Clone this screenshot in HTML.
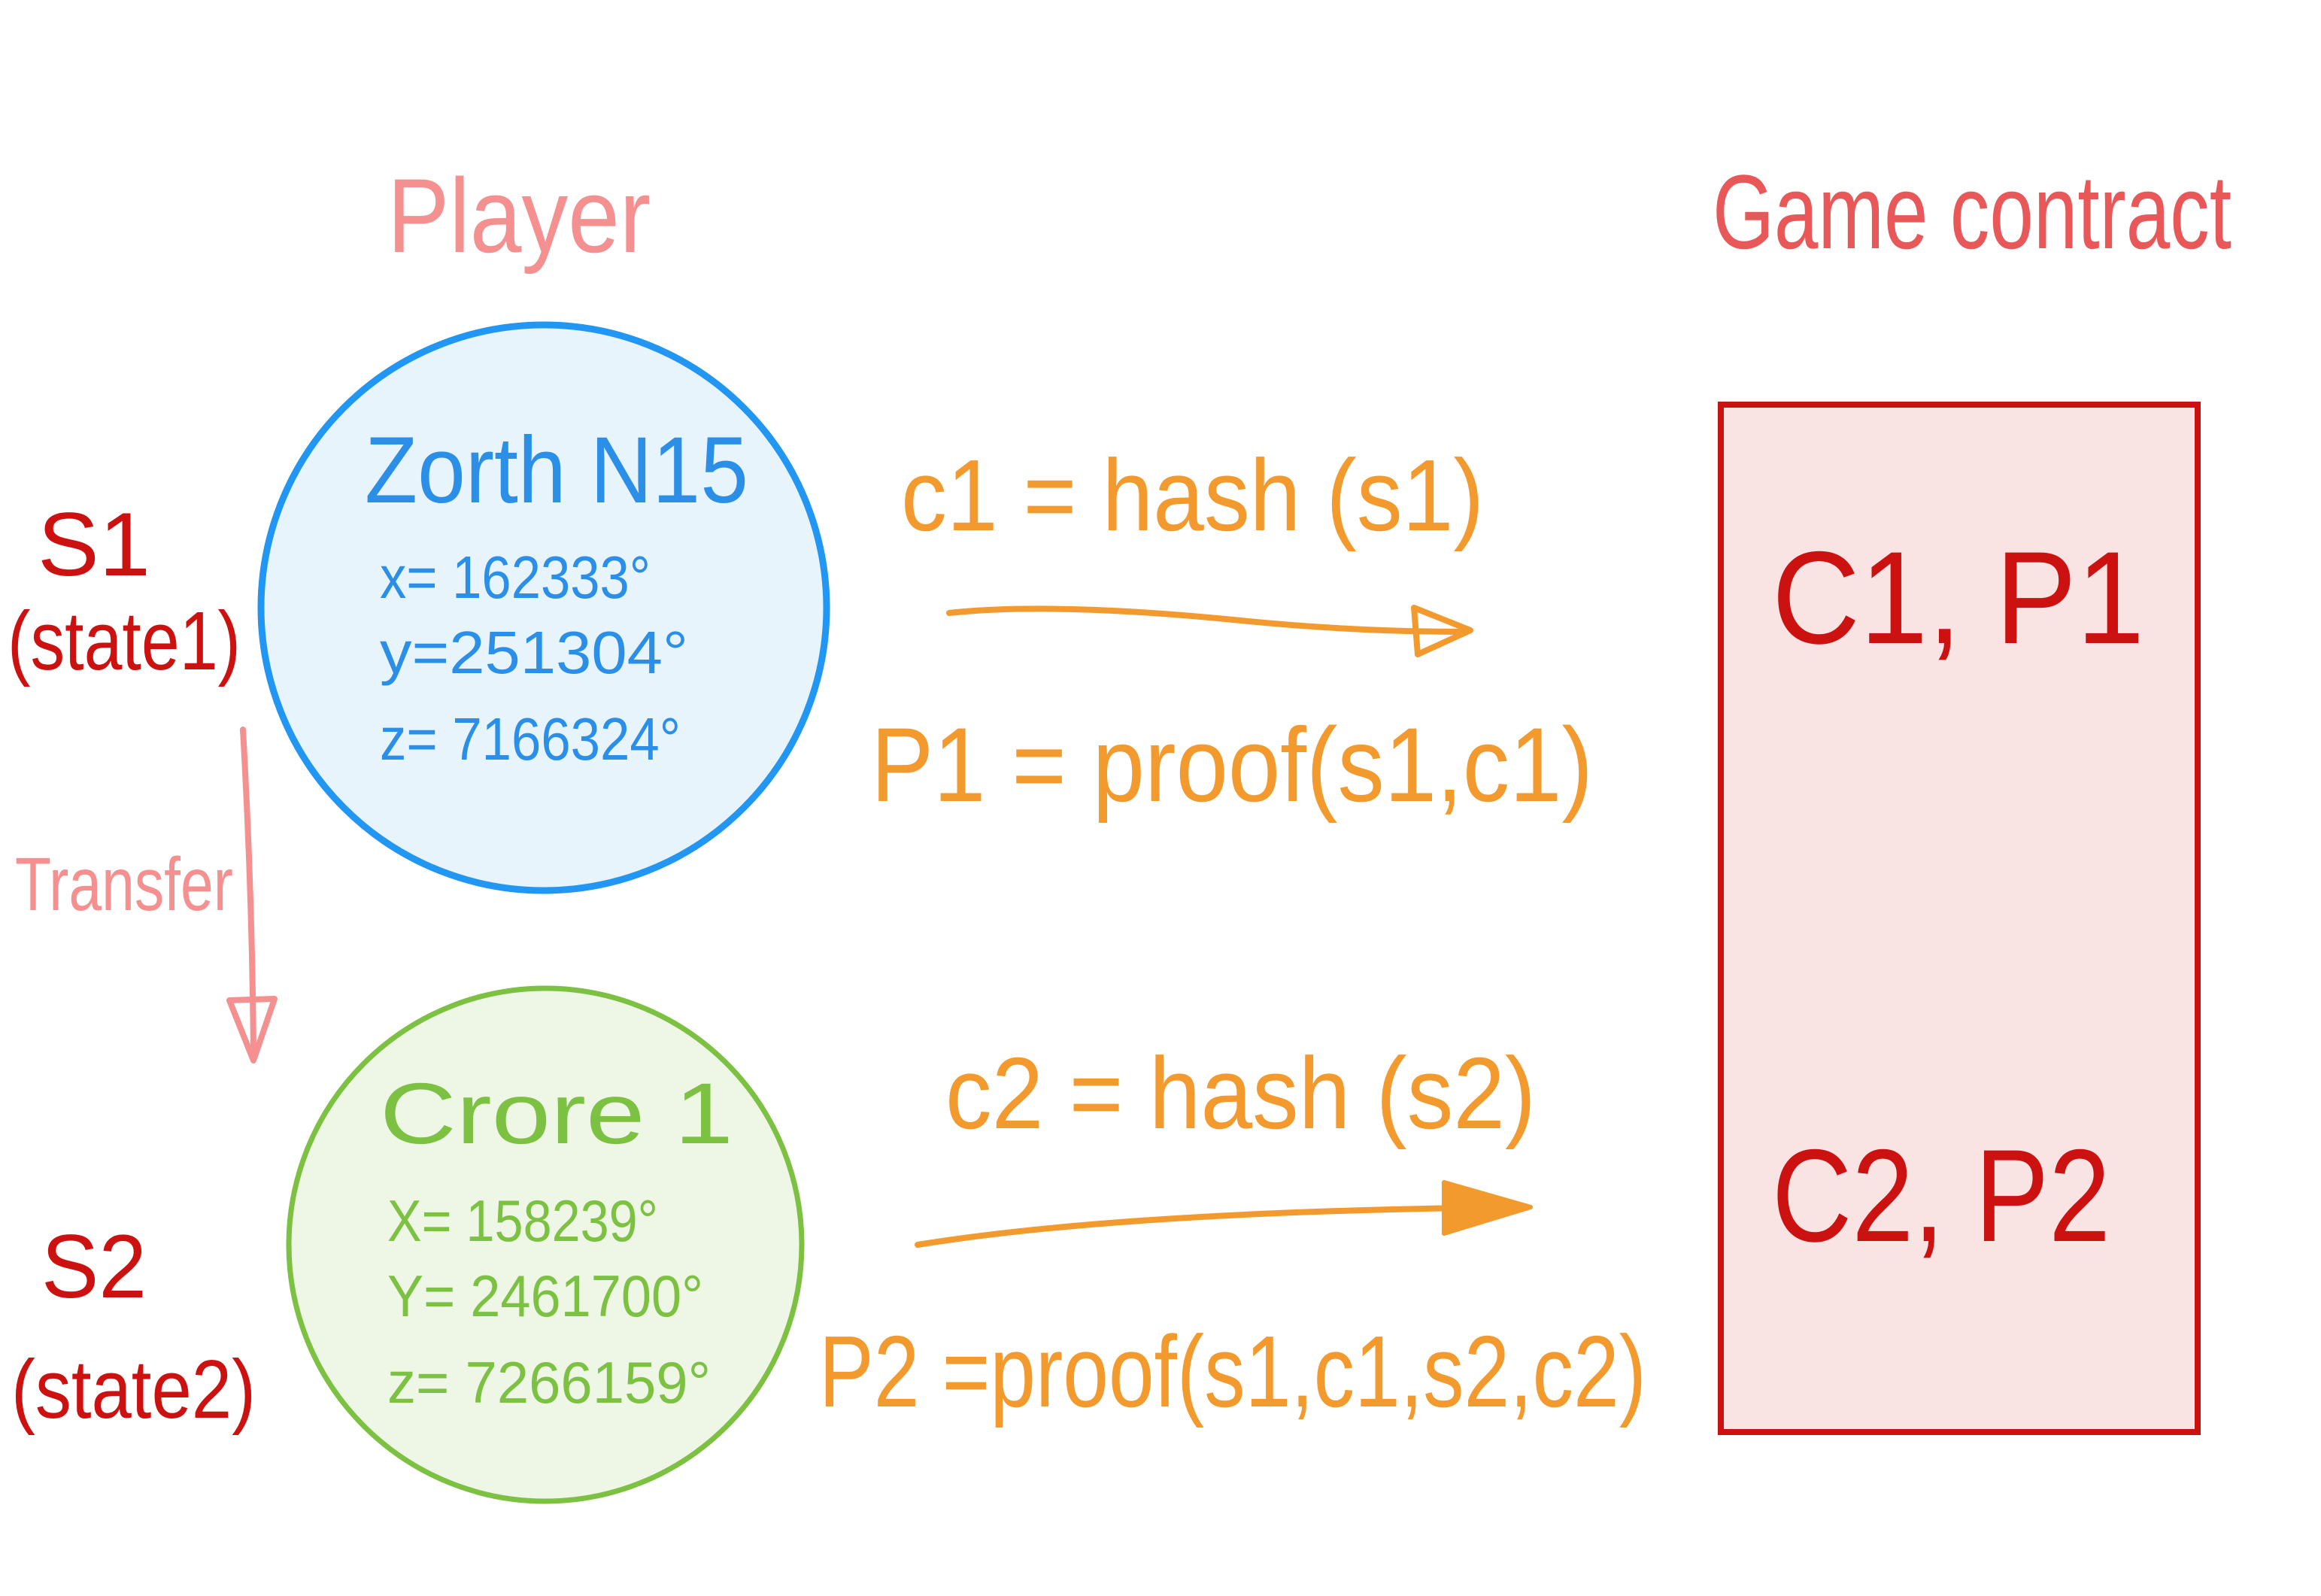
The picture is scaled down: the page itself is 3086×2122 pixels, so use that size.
<!DOCTYPE html>
<html><head><meta charset="utf-8"><style>
html,body{margin:0;padding:0;background:#fff;}
svg{display:block}
text{font-family:"Liberation Sans",sans-serif;}
</style></head><body>
<svg width="3086" height="2122" viewBox="0 0 3086 2122" xmlns="http://www.w3.org/2000/svg">
<rect width="3086" height="2122" fill="#fff"/>
<!-- titles -->
<text x="515" y="335" font-size="140" fill="#f49090" textLength="350" lengthAdjust="spacingAndGlyphs">Player</text>
<text x="2277" y="330" font-size="140" fill="#e85858" textLength="690" lengthAdjust="spacingAndGlyphs">Game contract</text>

<!-- blue circle -->
<circle cx="723" cy="808" r="376" fill="#e8f4fc" stroke="#2196f3" stroke-width="9"/>
<text x="485" y="668" font-size="125" fill="#2b8fe8" textLength="510" lengthAdjust="spacingAndGlyphs">Zorth N15</text>
<text x="505" y="795" font-size="80" fill="#2b8fe8" textLength="360" lengthAdjust="spacingAndGlyphs">x= 162333°</text>
<text x="505" y="895" font-size="80" fill="#2b8fe8" textLength="410" lengthAdjust="spacingAndGlyphs">y=251304°</text>
<text x="505" y="1010" font-size="80" fill="#2b8fe8" textLength="400" lengthAdjust="spacingAndGlyphs">z= 7166324°</text>

<!-- green circle -->
<circle cx="725" cy="1655" r="341" fill="#eef6e6" stroke="#7cc142" stroke-width="7"/>
<text x="505" y="1520" font-size="115" fill="#7cc142" textLength="470" lengthAdjust="spacingAndGlyphs">Crore  1</text>
<text x="515" y="1650" font-size="78" fill="#7cc142" textLength="360" lengthAdjust="spacingAndGlyphs">X= 158239°</text>
<text x="515" y="1750" font-size="78" fill="#7cc142" textLength="420" lengthAdjust="spacingAndGlyphs">Y= 2461700°</text>
<text x="515" y="1865" font-size="78" fill="#7cc142" textLength="430" lengthAdjust="spacingAndGlyphs">z= 7266159°</text>

<!-- state labels -->
<text x="50" y="765" font-size="120" fill="#cc1111" textLength="150" lengthAdjust="spacingAndGlyphs">S1</text>
<text x="10" y="890" font-size="110" fill="#cc1111" textLength="310" lengthAdjust="spacingAndGlyphs">(state1)</text>
<text x="55" y="1725" font-size="120" fill="#cc1111" textLength="140" lengthAdjust="spacingAndGlyphs">S2</text>
<text x="15" y="1885" font-size="110" fill="#cc1111" textLength="325" lengthAdjust="spacingAndGlyphs">(state2)</text>

<!-- transfer arrow -->
<path d="M323 970 Q335 1180 337 1395" fill="none" stroke="#f49090" stroke-width="8" stroke-linecap="round"/>
<path d="M305 1330 L337 1410 L365 1328 Z" fill="none" stroke="#f49090" stroke-width="8" stroke-linejoin="round"/>
<text x="20" y="1210" font-size="100" fill="#f49090" textLength="290" lengthAdjust="spacingAndGlyphs">Transfer</text>

<!-- orange formulas -->
<g fill="#f29a2e">
<text x="1198" y="705" font-size="135" textLength="775" lengthAdjust="spacingAndGlyphs">c1 = hash (s1)</text>
<text x="1158" y="1065" font-size="140" textLength="960" lengthAdjust="spacingAndGlyphs">P1 = proof(s1,c1)</text>
<text x="1257" y="1500" font-size="135" textLength="785" lengthAdjust="spacingAndGlyphs">c2 = hash (s2)</text>
<text x="1089" y="1870" font-size="135" textLength="1100" lengthAdjust="spacingAndGlyphs">P2 =proof(s1,c1,s2,c2)</text>
</g>
<path d="M1262 815 Q1400 800 1650 825 Q1800 840 1950 840" fill="none" stroke="#f29a2e" stroke-width="8" stroke-linecap="round"/>
<path d="M1880 808 L1955 838 L1885 870 Z" fill="none" stroke="#f29a2e" stroke-width="8" stroke-linejoin="round"/>
<path d="M1220 1655 Q1500 1610 2030 1605" fill="none" stroke="#f29a2e" stroke-width="8" stroke-linecap="round"/>
<path d="M1920 1572 L2035 1605 L1920 1640 Z" fill="#f29a2e" stroke="#f29a2e" stroke-width="6" stroke-linejoin="round"/>

<!-- contract box -->
<rect x="2288" y="538" width="634" height="1366" fill="#fae3e3" stroke="#cc1111" stroke-width="8"/>
<text x="2356" y="855" font-size="175" fill="#cc1111" textLength="495" lengthAdjust="spacingAndGlyphs">C1, P1</text>
<text x="2356" y="1650" font-size="175" fill="#cc1111" textLength="450" lengthAdjust="spacingAndGlyphs">C2, P2</text>
</svg>
</body></html>
